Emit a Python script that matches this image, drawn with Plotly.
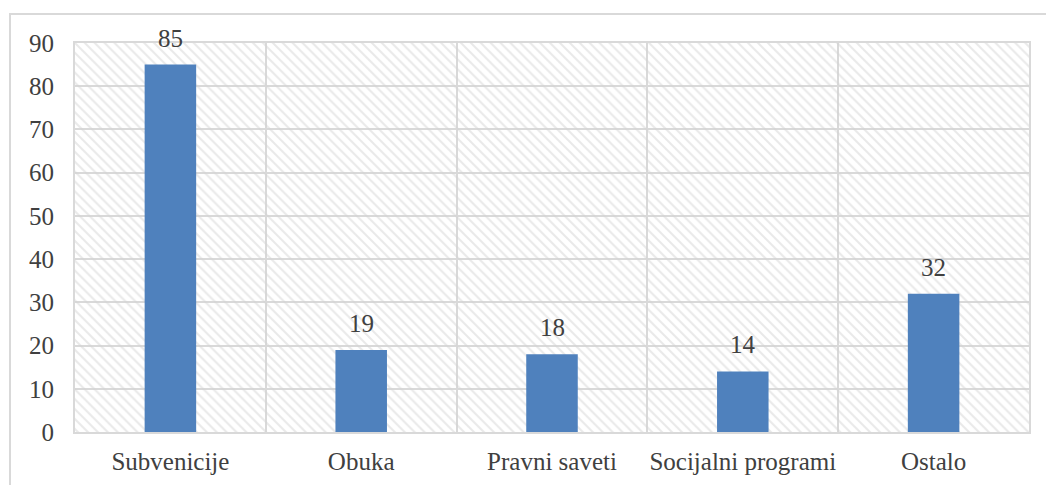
import plotly.graph_objects as go

categories = ["Subvenicije", "Obuka", "Pravni saveti", "Socijalni programi", "Ostalo"]
values = [85, 19, 18, 14, 32]
y_max = 90

W, H = 1046, 485
ml, mr, mt, mb = 75, 17, 43, 53
pw, ph = W - ml - mr, H - mt - mb

xs = list(range(len(categories)))
font_family = "Liberation Serif, DejaVu Serif, serif"
text_color = "#404040"
grid_color = "#d9d9d9"
fs = 25

fig = go.Figure()
# hatched plot background
fig.add_trace(go.Bar(
    x=xs, y=[y_max] * len(xs), width=1,
    marker=dict(color="rgba(0,0,0,0)", line=dict(width=0),
                pattern=dict(shape="\\", fgcolor="#d4d4d4", bgcolor="rgba(0,0,0,0)",
                             size=7, solidity=0.3)),
    hoverinfo="skip", showlegend=False,
))
fig.add_trace(go.Bar(
    x=xs, y=values, width=0.27,
    marker=dict(color="#4F81BD", line=dict(width=0)),
    showlegend=False,
))

for x, v in zip(xs, values):
    fig.add_annotation(x=x, y=v, text=str(v), showarrow=False, yanchor="bottom",
                       yshift=11, font=dict(family=font_family, size=fs, color=text_color))

fig.update_layout(
    width=W, height=H, barmode="overlay",
    margin=dict(l=ml, r=mr, t=mt, b=mb, autoexpand=False),
    paper_bgcolor="white", plot_bgcolor="white",
    font=dict(family=font_family, size=fs, color=text_color),
    xaxis=dict(range=[-0.5, 4.5], tickvals=xs, ticktext=categories, automargin=False,
               showgrid=False, zeroline=False, showline=True, mirror=True,
               linecolor=grid_color, linewidth=2, ticks="", ticklabelstandoff=6,
               minor=dict(tickvals=[i - 0.5 for i in range(len(xs) + 1)],
                          showgrid=True, gridcolor=grid_color, gridwidth=2)),
    yaxis=dict(range=[0, y_max], dtick=10, showgrid=True, gridcolor=grid_color, gridwidth=2,
               automargin=False,
               zeroline=False, showline=True, mirror=True, linecolor=grid_color, linewidth=2,
               ticks="", ticklabelstandoff=14),
)

# outer chart border
fig.add_shape(type="rect", xref="paper", yref="paper",
              x0=(10 - ml) / pw, x1=(W + 20 - ml) / pw,
              y0=-(mb + 20) / ph, y1=1 + (mt - 14) / ph,
              line=dict(color=grid_color, width=2), fillcolor="rgba(0,0,0,0)", layer="below")

fig.write_html("out.html", config={"displayModeBar": False},
               post_script="document.body.style.margin='0';")
